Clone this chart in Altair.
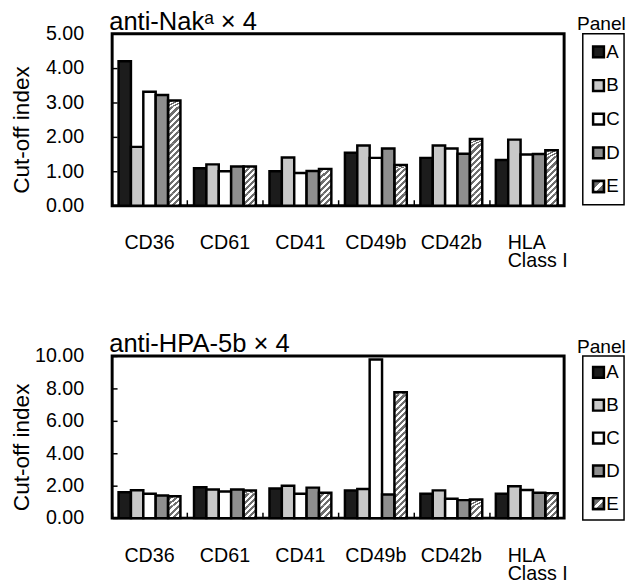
import altair as alt
import pandas as pd

categories = ["CD36", "CD61", "CD41", "CD49b", "CD42b", "HLA Class I"]
panels = ["A", "B", "C", "D", "E"]

# anti-Nak(a) x 4
nak_A = [4.20, 1.09, 1.00, 1.54, 1.39, 1.33]
nak_B = [1.71, 1.20, 1.40, 1.75, 1.75, 1.92]
nak_C = [3.31, 1.00, 0.95, 1.39, 1.66, 1.49]
nak_D = [3.22, 1.14, 1.01, 1.66, 1.51, 1.50]
nak_E = [3.06, 1.14, 1.07, 1.18, 1.94, 1.61]

# anti-HPA-5b x 4
hpa_A = [1.60, 1.90, 1.82, 1.70, 1.50, 1.50]
hpa_B = [1.72, 1.76, 2.00, 1.80, 1.71, 1.96]
hpa_C = [1.50, 1.64, 1.50, 9.78, 1.19, 1.73]
hpa_D = [1.39, 1.76, 1.88, 1.45, 1.11, 1.56]
hpa_E = [1.35, 1.70, 1.56, 7.76, 1.15, 1.54]

FONT = "Liberation Sans"
bar_fills = ["#1c1c1c", "#c8c8c8", "#ffffff", "#8e8e8e", "transparent"]
legend_fills = ["#1c1c1c", "#c8c8c8", "#ffffff", "#8e8e8e", "#8e8e8e"]


def long_frame(series):
    rows = []
    for p, vals in zip(panels, series):
        for c, v in zip(categories, vals):
            rows.append({"cat": c, "panel": p, "value": v})
    return pd.DataFrame(rows)


def hatch(n=4, dark="#6e6e6e"):
    stops = []
    for i in range(n):
        a, b, c = i / n, (i + 0.5) / n, (i + 1) / n
        stops += [
            {"offset": a, "color": "#ffffff"},
            {"offset": b, "color": "#ffffff"},
            {"offset": b, "color": dark},
            {"offset": c, "color": dark},
        ]
    return {"gradient": "linear", "x1": 0, "y1": 0, "x2": 1, "y2": 1, "stops": stops}


legend_hatch = {
    "gradient": "linear", "x1": 0, "y1": 0, "x2": 1, "y2": 1,
    "stops": [
        {"offset": 0, "color": "#6e6e6e"}, {"offset": 0.4, "color": "#6e6e6e"},
        {"offset": 0.4, "color": "#ffffff"}, {"offset": 0.6, "color": "#ffffff"},
        {"offset": 0.6, "color": "#6e6e6e"}, {"offset": 1, "color": "#6e6e6e"},
    ],
}

W = 460
LABEL_EXPR = ("datum.value == 'HLA Class I' ? "
              "['HLA', '\u200b\u00a0\u00a0\u00a0\u00a0Class I'] : datum.value")


def bar_panel(df, title, ymax, ystep, height, seg):
    xscale = alt.Scale(domain=categories, paddingInner=0.18, paddingOuter=0.085)
    xo = alt.XOffset("panel:N", scale=alt.Scale(domain=panels, paddingInner=0, paddingOuter=0))
    yscale = alt.Scale(domain=[0, ymax], nice=False, zero=True)
    tick_vals = list(range(0, ymax + 1, ystep))
    base = alt.Chart(df)

    hatch_layer = (
        base.transform_filter("datum.panel == 'E'")
        .transform_calculate(seg=f"sequence(0, datum.value, {seg})")
        .transform_flatten(["seg"])
        .transform_calculate(seg_top=f"min(datum.seg + {seg}, datum.value)")
        .mark_bar(fill=hatch(), strokeWidth=0)
        .encode(
            x=alt.X("cat:N", scale=xscale, sort=categories, title=None,
                    axis=alt.Axis(orient="top", offset=-height, labels=False, domain=False,
                                  ticks=True, tickSize=6, tickWidth=1.5, tickColor="black",
                                  bandPosition=0, tickOffset=-7, grid=False, title=None,
                                  minExtent=0, maxExtent=0)),
            xOffset=xo,
            y=alt.Y("seg:Q", scale=yscale, stack=None, title=None,
                    axis=alt.Axis(orient="right", offset=-W, labels=False, domain=False,
                                  ticks=True, tickSize=5, tickWidth=1.5, tickColor="black",
                                  values=tick_vals, grid=False, title=None,
                                  minExtent=0, maxExtent=0)),
            y2="seg_top:Q",
        )
    )

    bars = base.mark_bar(stroke="black", strokeWidth=2.5).encode(
        x=alt.X("cat:N", scale=xscale, sort=categories, title=None,
                axis=alt.Axis(orient="bottom", labelAngle=0, labelFontSize=20, labelPadding=28,
                              labelLineHeight=18, labelOverlap=False, ticks=False, tickSize=0,
                              domain=False, grid=False, labelExpr=LABEL_EXPR)),
        xOffset=xo,
        y=alt.Y("value:Q", scale=yscale, stack=None, title="Cut-off index",
                axis=alt.Axis(values=tick_vals, format=".2f", labelFontSize=20, labelPadding=29,
                              ticks=False, tickSize=0, domain=False, grid=False,
                              titleFontSize=23, titleFontWeight="normal",
                              titleX=-80, titleY=height / 2 + 10)),
        color=alt.Color("panel:N", scale=alt.Scale(domain=panels, range=bar_fills), legend=None),
    )

    return (
        alt.layer(hatch_layer, bars)
        .resolve_axis(x="independent", y="independent")
        .properties(
            width=W, height=height,
            title=alt.TitleParams(title, anchor="start", frame="group", font=FONT, fontSize=26,
                                  fontWeight="normal", color="black", offset=0, dy=11, dx=-3),
            view=alt.ViewBackground(stroke="black", strokeWidth=3),
        )
    )


def legend_panel(height, pad, width):
    leg = pd.DataFrame({"panel": panels})
    yscale = alt.Scale(domain=panels, type="point", padding=pad)
    base = alt.Chart(leg)
    y = alt.Y("panel:N", scale=yscale, axis=None)
    sq = base.mark_square(size=121, stroke="black", strokeWidth=2.5, opacity=1).encode(
        x=alt.value(16), y=y,
        fill=alt.Fill("panel:N", scale=alt.Scale(domain=panels, range=legend_fills), legend=None),
    )
    sq_e = base.transform_filter("datum.panel == 'E'").mark_square(
        size=121, stroke="black", strokeWidth=2.5, opacity=1, fill=legend_hatch
    ).encode(x=alt.value(16), y=y)
    txt = base.mark_text(align="left", baseline="middle", font=FONT, fontSize=19, color="black").encode(
        x=alt.value(24), y=y, text="panel:N"
    )
    return alt.layer(sq, sq_e, txt).properties(
        width=width, height=height,
        title=alt.TitleParams("Panel", anchor="start", frame="group", font=FONT, fontSize=19.5,
                              fontWeight="normal", color="black", offset=0, dy=1, dx=-6),
        view=alt.ViewBackground(stroke="black", strokeWidth=1.5),
    )


top = bar_panel(long_frame([nak_A, nak_B, nak_C, nak_D, nak_E]), "anti-Nak\u1d43 \u00d7 4", 5, 1, 175, 0.36)
bottom = bar_panel(long_frame([hpa_A, hpa_B, hpa_C, hpa_D, hpa_E]), "anti-HPA-5b \u00d7 4", 10, 2, 165, 0.764)

row1 = alt.hconcat(top, legend_panel(174, 0.54, 42), spacing=7)
row2 = alt.hconcat(bottom, legend_panel(167, 0.5, 42), spacing=7)

chart = (
    alt.vconcat(row1, row2, spacing=58)
    .properties(padding={"left": 1, "top": -6, "right": 0, "bottom": 0})
    .configure_axis(labelFont=FONT, titleFont=FONT, labelColor="black", titleColor="black")
    .configure_view(stroke=None)
)

chart.save("out.html", embed_options={"renderer": "svg", "actions": False})
